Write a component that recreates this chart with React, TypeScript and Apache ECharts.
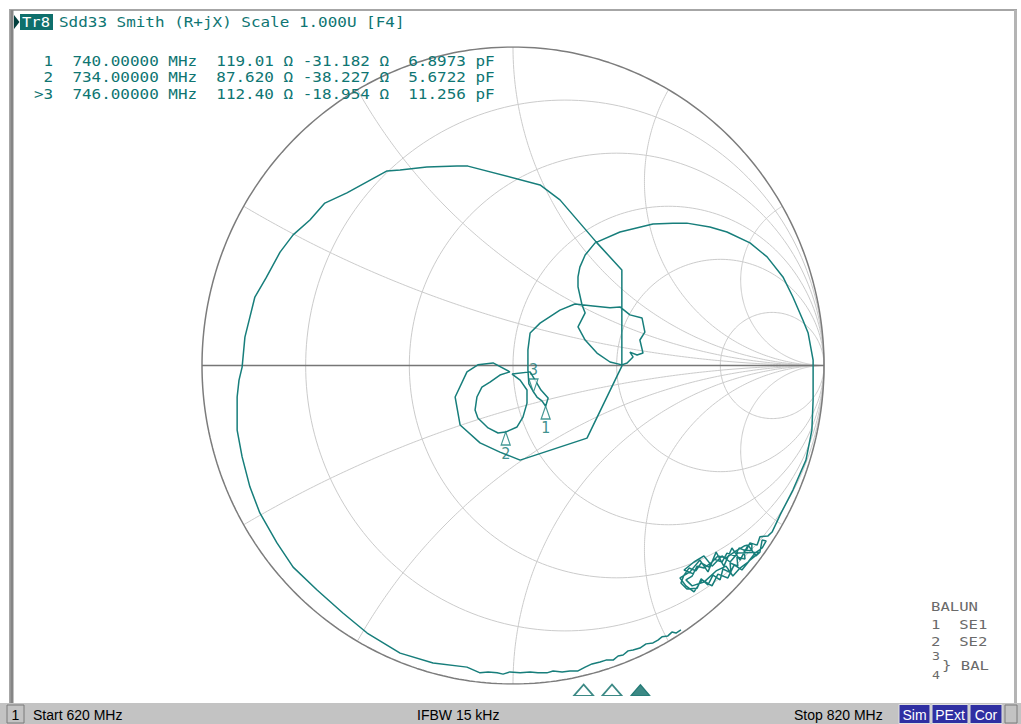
import React, { useEffect, useRef } from "react";
import * as echarts from "echarts";

// ---------------- data ----------------
const traceTitle = "Tr8";
const headerText = "Sdd33 Smith (R+jX) Scale 1.000U [F4]";

const startMHz = 620;
const stopMHz = 820;
const Z0 = 100;

const markerNo = [1, 2, 3];
const markerFreqMHz = [740, 734, 746];
const markerR = [119.01, 87.62, 112.4];
const markerX = [-31.182, -38.227, -18.954];
const markerCpF = [6.8973, 5.6722, 11.256];
const activeMarker = 3;

// Smith grid values (normalised resistance circles / reactance arcs)
const resistanceCircles = [0.2, 0.5, 1, 2, 5];
const reactanceArcs = [0.268, 0.577, 1, 1.732, 3.732];

const lowBandGamma = [
  [0.54, -0.83], [0.524, -0.84], [0.511, -0.837], [0.498, -0.849], [0.479, -0.852],
  [0.466, -0.862], [0.45, -0.871], [0.428, -0.874], [0.408, -0.887], [0.386, -0.893],
  [0.37, -0.896], [0.354, -0.909], [0.338, -0.912], [0.322, -0.925], [0.299, -0.925],
  [0.28, -0.931], [0.254, -0.937], [0.232, -0.947], [0.209, -0.959], [0.183, -0.959],
  [0.158, -0.962], [0.129, -0.959], [0.109, -0.965], [0.08, -0.965], [0.055, -0.962],
  [0.023, -0.965], [-0.01, -0.962], [-0.032, -0.969], [-0.051, -0.965], [-0.08, -0.962],
  [-0.106, -0.965],
];
const leftArcGamma = [
  [-0.148, -0.947], [-0.257, -0.934], [-0.363, -0.903], [-0.469, -0.84], [-0.547, -0.777],
  [-0.63, -0.705], [-0.707, -0.633], [-0.759, -0.557], [-0.814, -0.463], [-0.846, -0.381],
  [-0.871, -0.287], [-0.887, -0.203], [-0.887, -0.099], [-0.881, -0.046], [-0.871, -0.005],
  [-0.862, 0.089], [-0.846, 0.152], [-0.83, 0.215], [-0.794, 0.275], [-0.749, 0.356],
  [-0.707, 0.41], [-0.653, 0.457], [-0.605, 0.51], [-0.534, 0.542], [-0.405, 0.611],
  [-0.363, 0.614], [-0.277, 0.623], [-0.18, 0.626], [-0.145, 0.626],
  [0.087, 0.567], [0.151, 0.52], [0.27, 0.385], [0.35, 0.3], [0.35, -0.002],
];
const midLoopGamma = [
  [0.238, -0.228], [0.023, -0.297], [-0.042, -0.272], [-0.106, -0.243], [-0.17, -0.187],
  [-0.186, -0.099], [-0.148, -0.02], [-0.113, 0.002], [-0.064, 0.008], [-0.01, -0.02],
  [-0.042, -0.03], [-0.074, -0.052], [-0.1, -0.068], [-0.116, -0.099], [-0.122, -0.14],
  [-0.113, -0.165], [-0.08, -0.196], [-0.048, -0.212], [-0.024, -0.209], [0.013, -0.193],
  [0.032, -0.162], [0.045, -0.118], [0.045, -0.077], [0.023, -0.046], [-0.003, -0.027],
  [0.055, -0.02], [0.071, -0.046], [0.09, -0.077], [0.113, -0.102], [0.105, -0.128],
  [0.093, -0.111], [0.077, -0.099], [0.066, -0.083], [0.051, -0.058], [0.048, -0.014],
  [0.048, 0.049], [0.055, 0.102], [0.087, 0.133], [0.151, 0.174], [0.199, 0.193],
];
const upperLoopGamma = [
  [0.257, 0.187], [0.312, 0.181], [0.344, 0.184], [0.376, 0.159], [0.415, 0.149],
  [0.424, 0.105], [0.408, 0.08], [0.418, 0.039], [0.399, 0.033], [0.376, 0.042],
  [0.386, 0.027], [0.367, 0.008], [0.35, 0.002], [0.312, 0.011], [0.27, 0.039],
  [0.232, 0.08], [0.209, 0.121], [0.232, 0.165], [0.222, 0.19], [0.209, 0.247],
  [0.209, 0.278], [0.215, 0.309], [0.232, 0.347], [0.264, 0.385],
];
const highBandGamma = [
  [0.344, 0.419], [0.45, 0.444], [0.514, 0.447], [0.559, 0.447], [0.633, 0.435],
  [0.688, 0.419], [0.762, 0.385], [0.817, 0.341], [0.868, 0.278], [0.9, 0.215],
  [0.932, 0.143], [0.949, 0.102], [0.965, 0.017], [0.965, -0.108], [0.961, -0.203],
  [0.942, -0.297], [0.9, -0.391], [0.859, -0.469], [0.833, -0.523],
];
const endClusterGamma = [
  [0.82, -0.535], [0.794, -0.538], [0.785, -0.564], [0.762, -0.557], [0.749, -0.582],
  [0.727, -0.573], [0.714, -0.598], [0.688, -0.589], [0.672, -0.617], [0.646, -0.608],
  [0.63, -0.633], [0.605, -0.62], [0.588, -0.645], [0.566, -0.636], [0.55, -0.658],
  [0.54, -0.683], [0.559, -0.702], [0.592, -0.699], [0.605, -0.67], [0.627, -0.689],
  [0.643, -0.658], [0.666, -0.673], [0.675, -0.639], [0.701, -0.651], [0.698, -0.62],
  [0.723, -0.63], [0.72, -0.601], [0.746, -0.608], [0.743, -0.579], [0.768, -0.582],
  [0.768, -0.56], [0.743, -0.567], [0.717, -0.582], [0.685, -0.604], [0.659, -0.598],
  [0.64, -0.617], [0.614, -0.636], [0.592, -0.63], [0.576, -0.661], [0.556, -0.673],
  [0.576, -0.692], [0.614, -0.68], [0.653, -0.645], [0.685, -0.63], [0.707, -0.661],
  [0.73, -0.636], [0.756, -0.617], [0.778, -0.589], [0.801, -0.573], [0.814, -0.551],
  [0.801, -0.548], [0.794, -0.586], [0.781, -0.598], [0.756, -0.564], [0.73, -0.611],
  [0.704, -0.573], [0.678, -0.63], [0.653, -0.586], [0.627, -0.648], [0.601, -0.611],
  [0.569, -0.648], [0.537, -0.667], [0.556, -0.692], [0.582, -0.711], [0.608, -0.673],
  [0.64, -0.692], [0.659, -0.655], [0.691, -0.667], [0.711, -0.626], [0.736, -0.642],
  [0.762, -0.611], [0.794, -0.586], [0.723, -0.589], [0.698, -0.617], [0.672, -0.598],
  [0.64, -0.63], [0.614, -0.598], [0.582, -0.617], [0.55, -0.642], [0.582, -0.655],
];

const statusStart = "Start 620 MHz";
const statusIfbw = "IFBW 15 kHz";
const statusStop = "Stop 820 MHz";
const statusFlags = ["Sim", "PExt", "Cor"];
const channelNo = "1";
const balunTitle = "BALUN";
const balunPorts = ["1  SE1", "2  SE2"];
const balunPair = ["3", "4"];
const balunPairName = "} BAL";

// ---------------- helpers ----------------
const TEAL = "#177e7b";
const TEXT_TEAL = "#0e7572";
const MONO = '"DejaVu Sans Mono", monospace';

function gammaOf(R: number, X: number) {
  const zr = R / Z0, zi = X / Z0;
  const nr = zr - 1, ni = zi, dr = zr + 1, di = zi;
  const den = dr * dr + di * di;
  return [(nr * dr + ni * di) / den, (ni * dr - nr * di) / den];
}

function resistanceCircle(r: number) {
  const c = r / (1 + r), rad = 1 / (1 + r);
  const pts: number[][] = [];
  for (let i = 0; i <= 240; i++) {
    const a = (i / 240) * Math.PI * 2;
    pts.push([c + rad * Math.cos(a), rad * Math.sin(a)]);
  }
  return pts;
}

function reactanceArc(x: number, sign: number) {
  const cy = 1 / x, rad = 1 / x;
  const gx = (x * x - 1) / (x * x + 1), gy = (2 * x) / (x * x + 1);
  const a0 = -Math.PI / 2;
  let a1 = Math.atan2(gy - cy, gx - 1);
  if (a1 > a0) a1 -= Math.PI * 2;
  const pts: number[][] = [];
  for (let i = 0; i <= 200; i++) {
    const a = a0 + ((a1 - a0) * i) / 200;
    pts.push([1 + rad * Math.cos(a), sign * (cy + rad * Math.sin(a))]);
  }
  return pts;
}

function unitCircle() {
  const pts: number[][] = [];
  for (let i = 0; i <= 360; i++) {
    const a = (i / 360) * Math.PI * 2;
    pts.push([Math.cos(a), Math.sin(a)]);
  }
  return pts;
}

export default function App() {
  const ref = useRef<HTMLDivElement>(null);

  useEffect(() => {
    if (!ref.current) return;
    const chart = echarts.init(ref.current, undefined, { renderer: "svg" });

    const gridLineSeries: any[] = [];
    const addGrid = (data: number[][]) =>
      gridLineSeries.push({
        type: "line",
        xAxisIndex: 0,
        yAxisIndex: 0,
        data,
        showSymbol: false,
        symbol: "none",
        silent: true,
        z: 1,
        lineStyle: { color: "#cbcbcb", width: 1 },
      });
    resistanceCircles.forEach((r) => addGrid(resistanceCircle(r)));
    reactanceArcs.forEach((x) => {
      addGrid(reactanceArc(x, 1));
      addGrid(reactanceArc(x, -1));
    });

    const trace = [
      ...lowBandGamma,
      ...leftArcGamma,
      ...midLoopGamma,
      ...upperLoopGamma,
      ...highBandGamma,
      ...endClusterGamma,
    ];

    const markerGammas = markerNo.map((_, i) => gammaOf(markerR[i], markerX[i]));
    const passive = markerNo
      .map((n, i) => ({ n, g: markerGammas[i] }))
      .filter((m) => m.n !== activeMarker)
      .map((m) => ({ name: String(m.n), value: m.g }));
    const active = markerNo
      .map((n, i) => ({ n, g: markerGammas[i] }))
      .filter((m) => m.n === activeMarker)
      .map((m) => ({ name: String(m.n), value: m.g }));

    const markerLines = markerNo.map(
      (n, i) =>
        `${n === activeMarker ? ">" : " "}${n}  ${markerFreqMHz[i].toFixed(5)} MHz  ${markerR[i].toPrecision(
          5
        )} Ω ${markerX[i].toPrecision(5)} Ω  ${markerCpF[i].toPrecision(5)} pF`
    );

    const stimTriangles = markerNo.map((n, i) => ({
      value: [markerFreqMHz[i], 0.5],
      itemStyle:
        n === activeMarker
          ? { color: "#0b6b67", borderColor: "#0b6b67", borderWidth: 1 }
          : { color: "#ffffff", borderColor: "#0b6b67", borderWidth: 1.6 },
    }));

    const monoText = (text: string, x: number, y: number, size: number, sx: number, fill: string) => ({
      type: "text",
      x,
      y,
      scaleX: sx,
      style: { text, font: `${size}px ${MONO}`, fill, textAlign: "left", textVerticalAlign: "middle" },
      z: 101,
    });

    const elements: any[] = [];
    // window frame
    elements.push({
      type: "rect",
      shape: { x: 10, y: 10, width: 1006, height: 694 },
      style: { fill: "none", stroke: "#a6a6a6", lineWidth: 2 },
      z: 100,
    });
    elements.push({
      type: "line",
      shape: { x1: 12, y1: 10, x2: 12, y2: 703 },
      style: { stroke: "#858585", lineWidth: 3 },
      z: 100,
    });
    elements.push({
      type: "line",
      shape: { x1: 1015.5, y1: 10, x2: 1015.5, y2: 703 },
      style: { stroke: "#b4b4b4", lineWidth: 3 },
      z: 100,
    });
    // header
    elements.push({
      type: "polygon",
      shape: { points: [[14, 15], [19.5, 22], [14, 29]] },
      style: { fill: "#033f3e" },
      z: 100,
    });
    elements.push({
      type: "rect",
      shape: { x: 20, y: 14, width: 33, height: 16 },
      style: { fill: "#0e6f6c" },
      z: 100,
    });
    elements.push(monoText(traceTitle, 22, 22, 13.7, 1.13, "#ffffff"));
    elements.push(monoText(headerText, 59, 22, 13.7, 1.164, TEXT_TEAL));
    markerLines.forEach((t, i) => elements.push(monoText(t, 34, 61 + i * 16.5, 13.7, 1.164, TEXT_TEAL)));
    // balun legend
    const GREY = "#6a6a6a";
    elements.push(monoText(balunTitle, 931, 606, 13, 1.2, GREY));
    balunPorts.forEach((t, i) => elements.push(monoText(t, 931, 624.5 + i * 17, 13, 1.2, GREY)));
    elements.push(monoText(balunPair[0], 932, 656.5, 11, 1.2, GREY));
    elements.push(monoText(balunPair[1], 932, 675, 11, 1.2, GREY));
    elements.push(monoText(balunPairName, 942, 665, 13, 1.2, GREY));
    // status bar
    elements.push({ type: "rect", shape: { x: 0, y: 703, width: 1021, height: 21 }, style: { fill: "#c3c3c3" }, z: 100 });
    elements.push({
      type: "rect",
      shape: { x: 7, y: 705, width: 17, height: 18 },
      style: { fill: "#c3c3c3", stroke: "#7a7a7a", lineWidth: 1 },
      z: 101,
    });
    const sansFont = '14px "Liberation Sans", Arial, sans-serif';
    elements.push({
      type: "text",
      x: 15.5,
      y: 714.5,
      style: { text: channelNo, font: sansFont, fill: "#000", textAlign: "center", textVerticalAlign: "middle" },
      z: 102,
    });
    [
      [statusStart, 33],
      [statusIfbw, 417],
      [statusStop, 794],
    ].forEach(([t, x]) =>
      elements.push({
        type: "text",
        x,
        y: 714.5,
        style: { text: t, font: sansFont, fill: "#000", textAlign: "left", textVerticalAlign: "middle" },
        z: 102,
      })
    );
    const flagBoxes = [
      [899, 31],
      [932, 36],
      [970, 32],
    ];
    statusFlags.forEach((t, i) => {
      const [x, w] = flagBoxes[i];
      elements.push({
        type: "rect",
        shape: { x, y: 704.5, width: w, height: 19 },
        style: { fill: "#2f2fa2", stroke: "#e0e0e0", lineWidth: 1 },
        z: 101,
      });
      elements.push({
        type: "text",
        x: x + w / 2,
        y: 714.5,
        style: { text: t, font: sansFont, fill: "#ffffff", textAlign: "center", textVerticalAlign: "middle" },
        z: 102,
      });
    });
    elements.push({
      type: "rect",
      shape: { x: 1005, y: 705, width: 12, height: 18 },
      style: { fill: "#c3c3c3", stroke: "#7a7a7a", lineWidth: 1 },
      z: 101,
    });

    const option: any = {
      animation: false,
      backgroundColor: "#ffffff",
      grid: [
        { left: 202, top: 47, width: 622, height: 637, show: false },
        { left: 45, top: 684, width: 945, height: 12, show: false },
      ],
      xAxis: [
        { type: "value", gridIndex: 0, min: -1, max: 1, show: false },
        { type: "value", gridIndex: 1, min: startMHz, max: stopMHz, show: false },
      ],
      yAxis: [
        { type: "value", gridIndex: 0, min: -1, max: 1, show: false },
        { type: "value", gridIndex: 1, min: 0, max: 1, show: false },
      ],
      series: [
        ...gridLineSeries,
        {
          type: "line",
          data: unitCircle(),
          showSymbol: false,
          symbol: "none",
          silent: true,
          z: 2,
          lineStyle: { color: "#7c7c7c", width: 1.5 },
        },
        {
          type: "line",
          data: [
            [-1, 0],
            [1, 0],
          ],
          showSymbol: false,
          symbol: "none",
          silent: true,
          z: 2,
          lineStyle: { color: "#767676", width: 1.6 },
        },
        {
          type: "line",
          data: trace,
          showSymbol: false,
          symbol: "none",
          silent: true,
          z: 3,
          lineStyle: { color: TEAL, width: 1.5 },
        },
        {
          type: "scatter",
          data: passive,
          symbol: "triangle",
          symbolSize: [9, 13],
          symbolOffset: [0, 6.5],
          z: 4,
          itemStyle: { color: "#ffffff", borderColor: TEAL, borderWidth: 1.3 },
          label: {
            show: true,
            position: "bottom",
            distance: 1,
            formatter: "{b}",
            color: TEXT_TEAL,
            fontFamily: "DejaVu Sans Mono",
            fontSize: 15,
          },
        },
        {
          type: "scatter",
          data: active,
          symbol: "triangle",
          symbolRotate: 180,
          symbolSize: [9, 13],
          symbolOffset: [0, -6.5],
          z: 4,
          itemStyle: { color: "#ffffff", borderColor: TEAL, borderWidth: 1.3 },
          label: {
            show: true,
            position: "top",
            distance: 1,
            formatter: "{b}",
            color: TEXT_TEAL,
            fontFamily: "DejaVu Sans Mono",
            fontSize: 15,
          },
        },
        {
          type: "scatter",
          xAxisIndex: 1,
          yAxisIndex: 1,
          data: stimTriangles,
          symbol: "triangle",
          symbolSize: [19, 11],
          z: 4,
        },
      ],
      graphic: { elements },
    };

    chart.setOption(option);
    return () => chart.dispose();
  }, []);

  return (
    <div
      ref={ref}
      style={{ position: "absolute", left: 0, top: 0, width: 1021, height: 724, background: "#fff" }}
    />
  );
}
